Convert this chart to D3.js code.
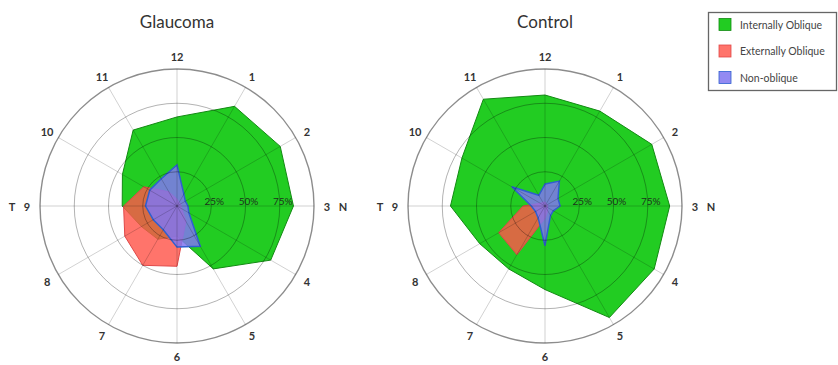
<!DOCTYPE html>
<html>
<head>
<meta charset="utf-8">
<script src="https://cdn.jsdelivr.net/npm/d3@7/dist/d3.min.js"></script>
<style>
  html, body { margin: 0; padding: 0; background: #fff; }
  svg { display: block; font-family: Lato, "Open Sans", sans-serif; }
</style>
</head>
<body>
<svg id="chart" width="838" height="365"></svg>
<script>
// Clock-hour positions around the optic disc (12 at top, clockwise)
const hours = ["12", "1", "2", "3", "4", "5", "6", "7", "8", "9", "10", "11"];

// Percent of vessels per clock hour
const glaucomaInternal = [65, 84, 87, 85, 79, 53, 22, 28, 30, 40, 46, 64];
const glaucomaExternal = [5, 3, 3, 3, 4, 13, 44, 50, 44, 39, 28, 12];
const glaucomaNon      = [30, 10, 7, 8, 10, 34, 30, 20, 20, 23, 23, 23];

const controlInternal = [81, 80, 90, 91, 92, 94, 61, 53, 55, 69, 70, 90];
const controlExternal = [3, 2, 2, 2, 2, 4, 9, 41, 39, 16, 4, 3];
const controlNon      = [16, 21, 11, 11, 7, 8, 29, 10, 8, 10, 28, 9];

const ringTicks = [25, 50, 75, 100];
const ringLabels = ["25%", "50%", "75%"];
const seriesNames = ["Internally Oblique", "Externally Oblique", "Non-oblique"];
const panelTitles = ["Glaucoma", "Control"];

const seriesStyle = [
  { fill: "rgb(34,204,34)", opacity: 1.0, stroke: "#138a13", width: 1 },
  { fill: "rgb(255,85,75)", opacity: 0.82, stroke: "#e04848", width: 1 },
  { fill: "rgb(128,118,240)", opacity: 0.85, stroke: "#2f5fd0", width: 1.5 }
];

const panels = [
  { title: panelTitles[0], cx: 177, series: [glaucomaInternal, glaucomaExternal, glaucomaNon] },
  { title: panelTitles[1], cx: 545, series: [controlInternal, controlExternal, controlNon] }
];

const svg = d3.select("#chart");
const cy = 206;
const R = 137;

const r = d3.scaleLinear().domain([0, 100]).range([0, R]);
const angle = d3.scaleBand().domain(hours).range([0, 2 * Math.PI]).align(0);
const ang = h => angle(h); // hour 12 -> 0 rad, clockwise

panels.forEach(p => {
  const g = svg.append("g").attr("transform", `translate(${p.cx},${cy})`);

  // Title
  svg.append("text")
    .attr("x", p.cx).attr("y", 28)
    .attr("text-anchor", "middle")
    .attr("font-size", 17)
    .attr("fill", "#333")
    .text(p.title);

  // Data polygons
  const radial = d3.lineRadial()
    .angle((d, i) => ang(hours[i]))
    .radius(d => r(d))
    .curve(d3.curveLinearClosed);

  p.series.forEach((vals, si) => {
    const st = seriesStyle[si];
    g.append("path")
      .attr("d", radial(vals))
      .attr("fill", st.fill)
      .attr("fill-opacity", st.opacity)
      .attr("stroke", st.stroke)
      .attr("stroke-width", st.width)
      .attr("stroke-linejoin", "miter");
  });

  // Grid: rings and spokes drawn over the fills
  g.selectAll("circle.ring")
    .data(ringTicks)
    .join("circle")
    .attr("class", "ring")
    .attr("r", d => r(d))
    .attr("fill", "none")
    .attr("stroke", "#000")
    .attr("stroke-opacity", d => d === 100 ? 0.45 : 0.3)
    .attr("stroke-width", d => d === 100 ? 1.4 : 1);

  g.selectAll("line.spoke")
    .data(hours)
    .join("line")
    .attr("class", "spoke")
    .attr("x1", 0).attr("y1", 0)
    .attr("x2", d => r(100) * Math.sin(ang(d)))
    .attr("y2", d => -r(100) * Math.cos(ang(d)))
    .attr("stroke", "#000")
    .attr("stroke-opacity", 0.18)
    .attr("stroke-width", 1);

  // Ring value labels along the 3 o'clock spoke
  g.selectAll("text.ringlab")
    .data(ringLabels)
    .join("text")
    .attr("class", "ringlab")
    .attr("x", (d, i) => r(ringTicks[i]) + 3)
    .attr("y", -1)
    .attr("text-anchor", "middle")
    .attr("font-size", 10)
    .attr("fill", "#1d321d")
    .text(d => d);

  // Clock-hour labels
  const lr = 150;
  g.selectAll("text.hour")
    .data(hours)
    .join("text")
    .attr("class", "hour")
    .attr("x", d => lr * Math.sin(ang(d)))
    .attr("y", d => -lr * Math.cos(ang(d)))
    .attr("text-anchor", "middle")
    .attr("dominant-baseline", "central")
    .attr("font-size", 11)
    .attr("font-weight", "bold")
    .attr("fill", "#333")
    .text(d => d);

  // Temporal / nasal side markers
  g.append("text")
    .attr("x", -lr - 15).attr("y", 0)
    .attr("text-anchor", "middle").attr("dominant-baseline", "central")
    .attr("font-size", 11).attr("font-weight", "bold").attr("fill", "#333")
    .text("T");
  g.append("text")
    .attr("x", lr + 16).attr("y", 0)
    .attr("text-anchor", "middle").attr("dominant-baseline", "central")
    .attr("font-size", 11).attr("font-weight", "bold").attr("fill", "#333")
    .text("N");
});

// Legend
const legend = svg.append("g").attr("transform", "translate(708,12)");
legend.append("rect")
  .attr("x", 0.5).attr("y", 0.5)
  .attr("width", 128).attr("height", 78)
  .attr("fill", "#fff")
  .attr("stroke", "#666")
  .attr("stroke-width", 1.3);

const legendY = d3.scalePoint().domain(seriesNames).range([12.5, 65.5]);
seriesNames.forEach((name, i) => {
  const st = seriesStyle[i];
  legend.append("rect")
    .attr("x", 11).attr("y", legendY(name) - 6)
    .attr("width", 12).attr("height", 12)
    .attr("fill", st.fill)
    .attr("fill-opacity", st.opacity)
    .attr("stroke", st.stroke)
    .attr("stroke-width", 0.8);
  legend.append("text")
    .attr("x", 32).attr("y", legendY(name))
    .attr("dominant-baseline", "central")
    .attr("font-size", 10.5)
    .attr("fill", "#444")
    .text(name);
});
</script>
</body>
</html>
